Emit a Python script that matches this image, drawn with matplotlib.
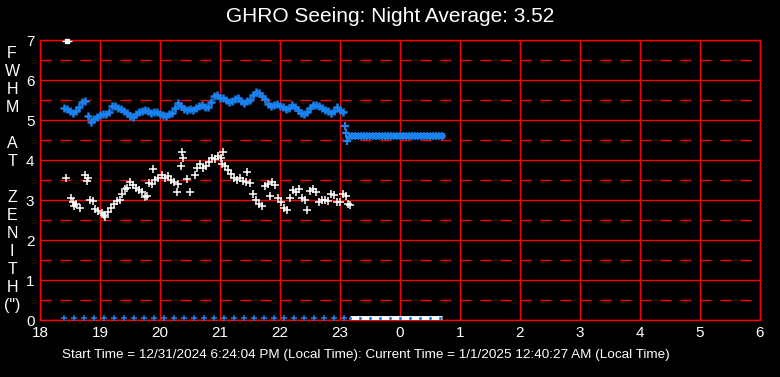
import matplotlib
matplotlib.use('Agg')
import matplotlib.pyplot as plt
import numpy as np

plt.rcParams['font.family'] = ['Liberation Sans', 'DejaVu Sans']
plt.rcParams['lines.scale_dashes'] = False

# ---------------- data ----------------
title = "GHRO Seeing: Night Average: 3.52"
footer = ("Start Time = 12/31/2024 6:24:04 PM (Local Time): "
          "Current Time = 1/1/2025 12:40:27 AM (Local Time)")
ylabel_letters = ["F", "W", "H", "M", "", "A", "T", "", "Z", "E", "N", "I", "T", "H", "(\")"]
x_ticks = [18, 19, 20, 21, 22, 23, 24, 25, 26, 27, 28, 29, 30]
x_tick_labels = ['18', '19', '20', '21', '22', '23', '0', '1', '2', '3', '4', '5', '6']
y_ticks = [0, 1, 2, 3, 4, 5, 6, 7]

# blue FWHM series (sampled every 3 minutes from 18.40 h)
fwhm_start = 18.40
fwhm_step = 0.05
fwhm_vals = [5.30, 5.27, 5.22, 5.17, 5.22, 5.32, 5.45, 5.47, 5.10, 4.95,
             5.02, 5.07, 5.12, 5.15, 5.15, 5.20, 5.35, 5.35, 5.30, 5.27,
             5.22, 5.17, 5.10, 5.08, 5.15, 5.20, 5.22, 5.25, 5.22, 5.18,
             5.20, 5.20, 5.15, 5.12, 5.10, 5.15, 5.18, 5.30, 5.42, 5.35,
             5.28, 5.25, 5.27, 5.25, 5.30, 5.35, 5.37, 5.33, 5.32, 5.45,
             5.60, 5.62, 5.55, 5.55, 5.50, 5.45, 5.47, 5.52, 5.55, 5.47,
             5.42, 5.48, 5.50, 5.62, 5.70, 5.67, 5.60, 5.52, 5.40, 5.35,
             5.38, 5.40, 5.35, 5.32, 5.27, 5.30, 5.37, 5.33, 5.25, 5.18,
             5.15, 5.20, 5.30, 5.37, 5.37, 5.35, 5.30, 5.25, 5.22, 5.17,
             5.22, 5.32, 5.25, 5.20]
fwhm_drop_t = [23.08, 23.10, 23.12, 23.15]
fwhm_drop_v = [4.85, 4.68, 4.48, 4.58]
fwhm_flat_t = [23.20, 23.25, 23.30, 23.35, 23.40, 23.45, 23.50, 23.55, 23.60, 23.65,
               23.70, 23.75, 23.80, 23.85, 23.90, 23.95, 24.00, 24.05, 24.10, 24.15,
               24.20, 24.25, 24.30, 24.35, 24.40, 24.45, 24.50, 24.55, 24.60, 24.65, 24.70]
fwhm_flat_v = [4.60] * len(fwhm_flat_t)

# white seeing series
white_t = [18.43, 18.52, 18.55, 18.57, 18.60, 18.67, 18.75, 18.78, 18.80, 18.83,
           18.88, 18.92, 18.97, 19.03, 19.07, 19.08, 19.13, 19.18, 19.23, 19.28,
           19.33, 19.37, 19.42, 19.45, 19.50, 19.55, 19.60, 19.65, 19.70, 19.75,
           19.78, 19.82, 19.87, 19.88, 19.92, 19.97, 20.03, 20.08, 20.13, 20.18,
           20.23, 20.28, 20.30, 20.35, 20.37, 20.38, 20.45, 20.50, 20.58, 20.62,
           20.67, 20.72, 20.77, 20.82, 20.87, 20.92, 20.97, 21.02, 21.03, 21.05,
           21.08, 21.13, 21.18, 21.23, 21.28, 21.33, 21.38, 21.43, 21.45, 21.50,
           21.55, 21.60, 21.65, 21.70, 21.75, 21.80, 21.83, 21.87, 21.92, 21.97,
           22.02, 22.07, 22.12, 22.17, 22.22, 22.27, 22.32, 22.37, 22.42, 22.45,
           22.50, 22.55, 22.60, 22.65, 22.70, 22.75, 22.80, 22.85, 22.90, 22.95,
           23.00, 23.05, 23.10, 23.13, 23.17]
white_v = [3.54, 3.05, 2.95, 2.85, 2.90, 2.80, 3.62, 3.48, 3.55, 3.00,
           2.98, 2.78, 2.72, 2.68, 2.62, 2.57, 2.70, 2.80, 2.90, 2.98,
           3.00, 3.15, 3.28, 3.30, 3.45, 3.38, 3.30, 3.25, 3.20, 3.08,
           3.10, 3.42, 3.40, 3.78, 3.50, 3.55, 3.62, 3.55, 3.60, 3.50,
           3.45, 3.20, 3.40, 3.85, 4.20, 4.05, 3.52, 3.20, 3.62, 3.80,
           3.90, 3.80, 3.85, 3.95, 4.05, 4.02, 4.10, 4.05, 3.90, 4.20,
           3.85, 3.75, 3.65, 3.55, 3.50, 3.55, 3.47, 3.45, 3.70, 3.42,
           3.15, 3.00, 2.90, 2.85, 3.35, 3.40, 3.10, 3.45, 3.38, 3.05,
           2.95, 2.80, 2.75, 3.05, 3.25, 3.20, 3.28, 3.05, 3.00, 2.75,
           3.22, 3.28, 3.20, 2.95, 3.00, 3.00, 2.98, 3.15, 3.12, 2.95,
           2.95, 3.15, 3.10, 2.90, 2.88]

# status row at the bottom (10-minute samples)
flag_blue_t = [18.40, 18.57, 18.73, 18.90, 19.07, 19.23, 19.40, 19.57, 19.73, 19.90,
               20.07, 20.23, 20.40, 20.57, 20.73, 20.90, 21.07, 21.23, 21.40, 21.57,
               21.73, 21.90, 22.07, 22.23, 22.40, 22.57, 22.73, 22.90, 23.07]
flag_blue_v = [0.05] * len(flag_blue_t)
flag_white_t = [23.17, 23.33, 23.50, 23.67, 23.83, 24.00, 24.17, 24.33, 24.50, 24.67]
flag_white_t_end = 24.70
flag_white_v = 0.05
marker_top_t = [18.45]
marker_top_v = [6.97]

# ---------------- style ----------------
RED = '#ff0000'
BLUE = '#1a82ee'
W, H = 780, 377

fig = plt.figure(figsize=(W / 100, H / 100), dpi=100, facecolor='black')
ax = fig.add_axes([40 / W, 57 / H, 720 / W, 280 / H], facecolor='black')
ax.set_xlim(18, 30)
ax.set_ylim(0, 7)

for s in ax.spines.values():
    s.set_color(RED)
    s.set_linewidth(1.0)

for xv in x_ticks:
    ax.axvline(xv, color=RED, lw=1.0, zorder=1)
for yv in y_ticks:
    ax.axhline(yv, color=RED, lw=1.0, zorder=1)
for yv in np.array(y_ticks[:-1]) + 0.5:
    ax.axhline(yv, color=RED, lw=1.0, zorder=1, linestyle=(0, (7.9, 6.5)))

ax.set_xticks(x_ticks)
ax.set_xticklabels(x_tick_labels)
ax.set_yticks(y_ticks)
ax.set_yticklabels([str(v) for v in y_ticks])
ax.tick_params(axis='both', length=0, colors='white', labelsize=11)
ax.tick_params(axis='x', pad=4.5)
ax.tick_params(axis='y', pad=4)

# series
fwhm_t = fwhm_start + fwhm_step * np.arange(len(fwhm_vals))
ax.plot(fwhm_t, fwhm_vals, linestyle='none', marker='+', color=BLUE,
        markersize=6, markeredgewidth=1.8, zorder=3)
ax.plot(fwhm_drop_t, fwhm_drop_v, linestyle='none', marker='+', color=BLUE,
        markersize=6, markeredgewidth=1.6, zorder=3)
ax.plot(fwhm_flat_t, fwhm_flat_v, linestyle='none', marker='s', color=BLUE,
        markersize=4.5, markeredgewidth=0, zorder=3)
ax.plot(fwhm_flat_t, fwhm_flat_v, linestyle='none', marker='+', color=BLUE,
        markersize=6, markeredgewidth=1.2, zorder=3)

ax.plot(white_t, white_v, linestyle='none', marker='+', color='white',
        markersize=6, markeredgewidth=1.1, zorder=4)

ax.plot([flag_white_t[0], flag_white_t_end], [flag_white_v, flag_white_v],
        color='white', lw=3.5, solid_capstyle='butt', zorder=3)
ax.plot(flag_white_t, [flag_white_v] * len(flag_white_t), linestyle='none',
        marker='.', color=BLUE, markersize=2.5, zorder=4)
ax.plot(flag_blue_t, flag_blue_v, linestyle='none', marker='+', color=BLUE,
        markersize=5, markeredgewidth=1.1, zorder=3)
ax.plot(marker_top_t, marker_top_v, linestyle='none', marker='s', color='white',
        markersize=3.5, zorder=5, clip_on=False)
ax.plot(marker_top_t, marker_top_v, linestyle='none', marker='_', color='white',
        markersize=7, markeredgewidth=1.0, zorder=5, clip_on=False)

# texts
fig.text(390 / W, 1 - 17 / H, title, ha='center', va='center', color='white', fontsize=15)
fig.text(366 / W, 1 - 355 / H, footer, ha='center', va='center', color='white', fontsize=9.7)
for i, ch in enumerate(ylabel_letters):
    if ch:
        fig.text(12 / W, 1 - (53 + 18.07 * i) / H, ch, ha='center', va='center',
                 color='white', fontsize=11.5)

fig.savefig('out.png', dpi=100, facecolor='black')
